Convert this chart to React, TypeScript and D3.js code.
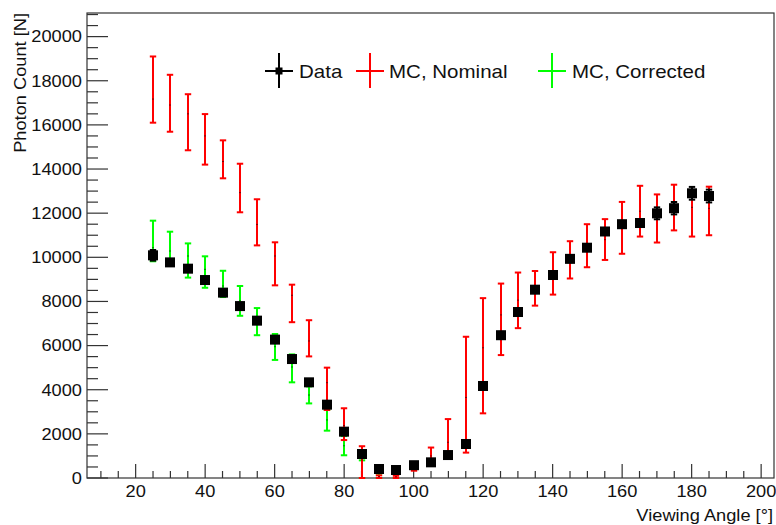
import React from 'react';
import * as d3 from 'd3';

// viewing angle bins (deg)
const angles = [25, 30, 35, 40, 45, 50, 55, 60, 65, 70, 75, 80, 85, 90, 95, 100, 105, 110, 115, 120, 125, 130, 135, 140, 145, 150, 155, 160, 165, 170, 175, 180, 185];

// measured photon counts
const dataVal = [10090, 9770, 9485, 8970, 8400, 7790, 7130, 6270, 5390, 4335, 3323, 2100, 1087, 408, 362, 580, 710, 1040, 1541, 4169, 6470, 7521, 8533, 9198, 9930, 10435, 11170, 11500, 11554, 11993, 12225, 12900, 12777];
const dataErr = [240, 150, 150, 150, 150, 150, 150, 150, 150, 150, 150, 150, 150, 100, 100, 100, 100, 100, 150, 150, 150, 150, 150, 150, 150, 150, 150, 150, 150, 270, 280, 290, 290];

// MC nominal: central value and band edges
const nomVal = [17170, 16900, 16500, 15500, 14340, 12930, 11490, 10060, 8280, 6210, 4320, 2380, 815, 60, 50, 520, 1000, 1620, 3650, 5900, 7390, 8060, 8590, 9270, 9890, 10530, 10800, 11330, 12090, 11760, 12250, 12265, 12220];
const nomLo = [16100, 15690, 14850, 14200, 13580, 12040, 10540, 8730, 7060, 5510, 3080, 1720, 0, 0, 0, 330, 620, 900, 1150, 2930, 5570, 6790, 7810, 8310, 9040, 9550, 9880, 10160, 10940, 10670, 11220, 10940, 11000];
const nomHi = [19100, 18270, 17390, 16490, 15300, 14240, 12630, 10680, 8760, 7150, 5000, 3160, 1440, 120, 100, 700, 1380, 2670, 6400, 8150, 8810, 9310, 9380, 10230, 10730, 11500, 11730, 12510, 13240, 12850, 13290, 13050, 13200];

// MC corrected (only low angles)
const corrAngles = [25, 30, 35, 40, 45, 50, 55, 60, 65, 70, 75, 80, 85, 90, 95];
const corrVal = [10435, 10285, 10060, 9455, 8700, 8030, 7080, 5950, 5030, 3760, 2630, 1460, 400, 100, 100];
const corrLo = [9820, 9650, 9080, 8620, 8200, 7350, 6470, 5350, 4335, 3380, 2145, 1030, 0, 0, 0];
const corrHi = [11660, 11160, 10630, 10045, 9390, 8700, 7700, 6525, 5600, 4150, 3080, 1900, 800, 200, 200];

const legendItems = [
  { label: 'Data', color: '#000000', cx: 279, tx: 299, marker: true },
  { label: 'MC, Nominal', color: '#ff0000', cx: 370, tx: 389, marker: false },
  { label: 'MC, Corrected', color: '#00ff00', cx: 552, tx: 572, marker: false },
];

const FONT = '"Liberation Sans", Arial, Helvetica, sans-serif';
const AXIS = '#333333';
const SX = 1.14; // glyphs in the picture are a bit wider than plain Helvetica

function Label({ x, y, anchor, size, children, rotate }: any) {
  const t = rotate ? `translate(${x},${y}) rotate(-90) scale(${SX},1)` : `translate(${x},${y}) scale(${SX},1)`;
  return (
    <text transform={t} textAnchor={anchor} fontFamily={FONT} fontSize={size} fill="#111">
      {children}
    </text>
  );
}

function ErrBar({ cx, y0, y1, color }: { cx: number; y0: number; y1: number; color: string }) {
  const cap = 3.2;
  return (
    <g stroke={color} strokeWidth={2} fill="none">
      <line x1={cx} x2={cx} y1={y0} y2={y1} />
      <line x1={cx - cap} x2={cx + cap} y1={y0} y2={y0} />
      <line x1={cx - cap} x2={cx + cap} y1={y1} y2={y1} />
    </g>
  );
}

export default function App() {
  const W = 776;
  const H = 525;
  const x = d3.scaleLinear().domain([6, 203.7]).range([87, 774]);
  const y = d3.scaleLinear().domain([0, 21070]).range([478, 13]);
  const px = (v: number) => Math.round(x(v));
  const [x0, x1] = x.range();
  const [yb, yt] = y.range();

  const xMajor = d3.range(20, 201, 20);
  const xMinor = d3.range(10, 204, 5).filter((v) => v % 20 !== 0);
  const yMajor = d3.range(0, 20001, 2000);
  const yMinor = d3.range(500, 21070, 500).filter((v) => v % 2000 !== 0);

  return (
    <svg width={W} height={H} style={{ position: 'absolute', left: 0, top: 0, background: '#fff' }}>
      {/* frame */}
      <rect x={x0} y={yt} width={x1 - x0} height={yb - yt} fill="none" stroke={AXIS} strokeWidth={1.2} />

      {/* x ticks */}
      {xMajor.map((v) => (
        <line key={'xM' + v} x1={x(v)} x2={x(v)} y1={yb} y2={yb - 14} stroke={AXIS} strokeWidth={1.2} />
      ))}
      {xMinor.map((v) => (
        <line key={'xm' + v} x1={x(v)} x2={x(v)} y1={yb} y2={yb - 7} stroke={AXIS} strokeWidth={1.2} />
      ))}
      {xMajor.map((v) => (
        <Label key={'xl' + v} x={x(v)} y={497} anchor="middle" size={16}>
          {v}
        </Label>
      ))}

      {/* y ticks */}
      {yMajor.map((v) => (
        <line key={'yM' + v} x1={x0} x2={x0 + 21} y1={y(v)} y2={y(v)} stroke={AXIS} strokeWidth={1.2} />
      ))}
      {yMinor.map((v) => (
        <line key={'ym' + v} x1={x0} x2={x0 + 11} y1={y(v)} y2={y(v)} stroke={AXIS} strokeWidth={1.2} />
      ))}
      {yMajor.map((v) => (
        <Label key={'yl' + v} x={82} y={y(v) + 5.8} anchor="end" size={16}>
          {v}
        </Label>
      ))}

      {/* axis titles */}
      <Label x={773} y={521} anchor="end" size={16}>
        Viewing Angle [°]
      </Label>
      <Label x={25.5} y={yt} anchor="end" size={16} rotate>
        Photon Count [N]
      </Label>

      {/* MC corrected */}
      {corrAngles.map((a, i) => (
        <ErrBar key={'c' + a} cx={px(a)} y0={y(corrLo[i])} y1={y(corrHi[i])} color="#00ff00" />
      ))}
      {corrAngles.map((a, i) => (
        <rect key={'cd' + a} x={px(a) - 0.5} y={y(corrVal[i]) - 0.5} width={1} height={1} fill="#000" />
      ))}

      {/* MC nominal */}
      {angles.map((a, i) => (
        <ErrBar key={'n' + a} cx={px(a)} y0={y(nomLo[i])} y1={y(nomHi[i])} color="#ff0000" />
      ))}
      {angles.map((a, i) => (
        <rect key={'nd' + a} x={px(a) - 0.5} y={y(nomVal[i]) - 0.5} width={1} height={1} fill="#000" />
      ))}

      {/* data */}
      {angles.map((a, i) => (
        <ErrBar key={'d' + a} cx={px(a)} y0={y(dataVal[i] - dataErr[i])} y1={y(dataVal[i] + dataErr[i])} color="#000" />
      ))}
      {angles.map((a, i) => (
        <rect key={'ds' + a} x={px(a) - 5} y={y(dataVal[i]) - 5} width={10} height={10} fill="#000" />
      ))}

      {/* legend */}
      {legendItems.map((d) => (
        <g key={d.label}>
          <line x1={d.cx - 14} x2={d.cx + 14} y1={71} y2={71} stroke={d.color} strokeWidth={2} />
          <line x1={d.cx} x2={d.cx} y1={53} y2={88} stroke={d.color} strokeWidth={2} />
          {d.marker ? <rect x={d.cx - 3.5} y={67.5} width={7} height={7} fill="#000" /> : null}
          <Label x={d.tx} y={77.5} anchor="start" size={18}>
            {d.label}
          </Label>
        </g>
      ))}
    </svg>
  );
}
